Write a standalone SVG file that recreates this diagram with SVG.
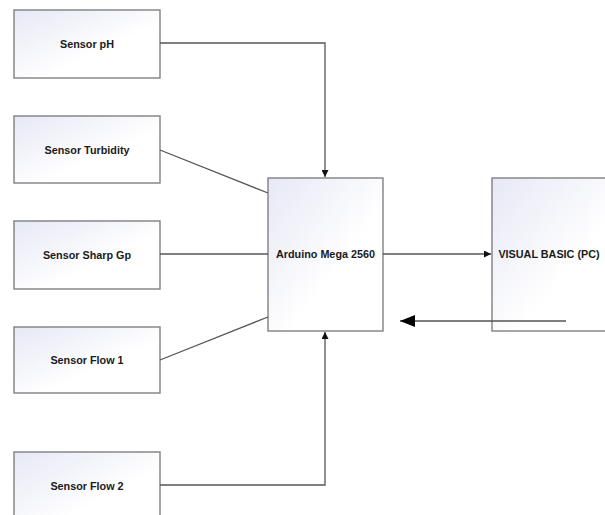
<svg xmlns="http://www.w3.org/2000/svg" width="605" height="515" viewBox="0 0 605 515">
<defs>
<linearGradient id="g" x1="0" y1="0" x2="1" y2="1">
<stop offset="0" stop-color="#e6e8f5"/>
<stop offset="0.6" stop-color="#ffffff"/>
</linearGradient>
<marker id="a" viewBox="0 0 10 10" refX="10" refY="5" markerWidth="7" markerHeight="7" markerUnits="userSpaceOnUse" orient="auto">
<path d="M0,0 L10,5 L0,10 z" fill="#111"/>
</marker>
<marker id="b" viewBox="0 0 10 10" refX="10" refY="5" markerWidth="15" markerHeight="15" markerUnits="userSpaceOnUse" orient="auto">
<path d="M0,1 L10,5 L0,9 z" fill="#000"/>
</marker>
</defs>
<style>
.box{fill:url(#g);stroke:#808080;stroke-width:1.4}
.t{font-family:"Liberation Sans",Arial,sans-serif;font-weight:bold;font-size:10.8px;fill:#1a1a1a;text-anchor:middle;dominant-baseline:central}
.c{fill:none;stroke:#555;stroke-width:1.3}
</style>
<rect width="605" height="515" fill="#fff"/>
<g id="sensor-ph"><rect class="box" x="14" y="10" width="146" height="68"/><text class="t" x="87" y="44">Sensor pH</text></g>
<g id="sensor-turbidity"><rect class="box" x="14" y="116" width="146" height="67"/><text class="t" x="87" y="150">Sensor Turbidity</text></g>
<g id="sensor-sharp"><rect class="box" x="14" y="221" width="146" height="68"/><text class="t" x="87" y="255">Sensor Sharp Gp</text></g>
<g id="sensor-flow1"><rect class="box" x="14" y="327" width="146" height="66"/><text class="t" x="87" y="360">Sensor Flow 1</text></g>
<g id="sensor-flow2"><rect class="box" x="14" y="452" width="146" height="80"/><text class="t" x="87" y="486">Sensor Flow 2</text></g>
<g id="arduino"><rect class="box" x="268" y="178" width="115" height="153"/><text class="t" x="325.5" y="254">Arduino Mega 2560</text></g>
<g id="visual-basic"><rect class="box" x="492" y="178" width="130" height="153"/><text class="t" x="549" y="254">VISUAL BASIC (PC)</text></g>
<g id="connectors">
<polyline class="c" points="160,43 325,43 325,177" marker-end="url(#a)"/>
<line class="c" x1="160" y1="150" x2="268" y2="193"/>
<line class="c" x1="160" y1="254" x2="268" y2="254"/>
<line class="c" x1="160" y1="360" x2="268" y2="317"/>
<polyline class="c" points="160,485 325,485 325,332" marker-end="url(#a)"/>
<line class="c" x1="383" y1="254" x2="491" y2="254" marker-end="url(#a)"/>
<line class="c" x1="566" y1="321" x2="400" y2="321" stroke="#333" stroke-width="1.5" marker-end="url(#b)"/>
</g>
</svg>
